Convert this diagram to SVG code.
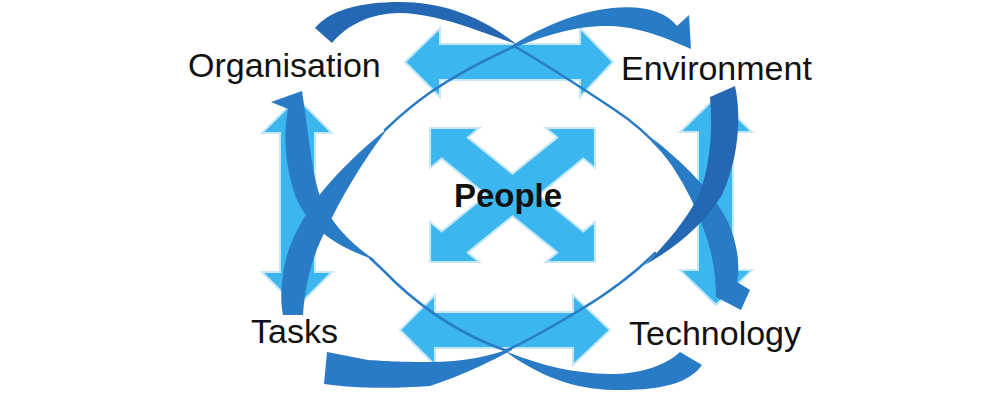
<svg xmlns="http://www.w3.org/2000/svg" width="1000" height="400" viewBox="0 0 1000 400">
<style>
.la{fill:#3CB6EE;stroke:#C4E8F8;stroke-width:2;stroke-linejoin:miter}
.db{fill:#2A7BC6}
.dk{fill:#2468B3}
.thin{fill:none;stroke:#2A7BC6;stroke-width:2.5;stroke-linecap:round}
.lbl{font-family:"Liberation Sans",Arial,sans-serif;font-size:34px;fill:#111}
.pp{font-family:"Liberation Sans",Arial,sans-serif;font-size:33px;font-weight:bold;fill:#111}
</style>
<rect width="1000" height="400" fill="#ffffff"/>
<g id="connectors">
  <g id="double-arrows">
    <polygon class="la" points="405,62 440,28 440,44 580,44 580,28 613,62 580,97 580,80 440,80 440,97"/>
    <polygon class="la" points="400,330 435,295 435,312 573,312 573,295 610,330 573,365 573,348 435,348 435,365"/>
    <polygon class="la" points="297,98 332,133 315,133 315,272 332,272 297,307 262,272 280,272 280,133 262,133"/>
    <polygon class="la" points="716,97 752,132 733,132 733,270 752,270 716,305 680,270 698,270 698,132 680,132"/>
  </g>
  <g id="cycle-arrows">
    <!-- Tasks to Environment -->
    <path class="db" d="M303,315 C305,285 312,255 327,228 C340,200 360,165 388,128 C360,150 335,175 317,198 C300,222 288,245 284,268 C280,290 281,305 283,315 Z"/>
    <path class="thin" d="M385,130 C410,106 440,80 515,46"/>
    <path class="db" d="M513,45 C540,28 575,12 612,8 C645,5 666,12 677,26 L689,15 L691,49 C670,40 645,28 612,26 C575,25 545,36 513,48 Z"/>
    <!-- Organisation to Technology -->
    <path class="dk" d="M315,28 C330,10 360,2 400,2 C440,2 480,15 516,44 C480,32 440,14 400,13 C372,13 348,24 332,43 Z"/>
    <path class="thin" d="M514,46 C545,64 585,90 615,110 C650,133 678,165 698,205"/>
    <path class="db" d="M652,138 C680,160 712,190 728,222 C738,245 740,265 737,282 L750,290 L741,310 L716,297 C716,280 714,262 708,242 C700,215 685,180 652,138 Z"/>
    <!-- Environment to Tasks -->
    <path class="dk" d="M710,97 L735,86 C742,118 738,160 722,195 C705,222 680,245 645,265 C670,240 690,215 700,192 C710,165 713,130 710,97 Z"/>
    <path class="thin" d="M655,253 C630,278 600,298 580,310 C555,325 530,340 505,351"/>
    <path class="db" d="M512,348 C490,356 465,362 430,362 C400,362 385,361 368,360 L327,352 L324,384 C350,388 390,389 430,386 C450,380 485,365 512,350 Z"/>
    <!-- Technology to Organisation -->
    <path class="db" d="M680,352 L702,365 C690,382 665,390 620,390 C580,390 545,380 505,351 C540,365 570,373 610,374 C640,374 665,366 680,352 Z"/>
    <path class="thin" d="M507,351 C470,338 430,315 395,282 C385,272 378,265 370,258"/>
    <path class="db" d="M375,260 C345,240 325,215 318,190 C311,165 308,130 302,91 L271,102 L288,109 C283,135 285,165 295,195 C305,222 330,245 375,260 Z"/>
  </g>
</g>
<g id="node-people">
  <polygon class="la" points="512.5,173.8 557.3,137.4 545.7,128 594.9,128 594.9,168 583.3,158.6 538.6,195 583.3,231.4 594.9,222 594.9,262 545.7,262 557.3,252.6 512.5,216.2 467.7,252.6 479.3,262 430.1,262 430.1,222 441.7,231.4 486.4,195 441.7,158.6 430.1,168 430.1,128 479.3,128 467.7,137.4"/>
  <text class="pp" x="508" y="207" text-anchor="middle">People</text>
</g>
<g id="node-organisation"><text class="lbl" x="188" y="77">Organisation</text></g>
<g id="node-environment"><text class="lbl" x="621" y="80">Environment</text></g>
<g id="node-technology"><text class="lbl" x="629" y="345">Technology</text></g>
<g id="node-tasks"><text class="lbl" x="251" y="343">Tasks</text></g>
</svg>
